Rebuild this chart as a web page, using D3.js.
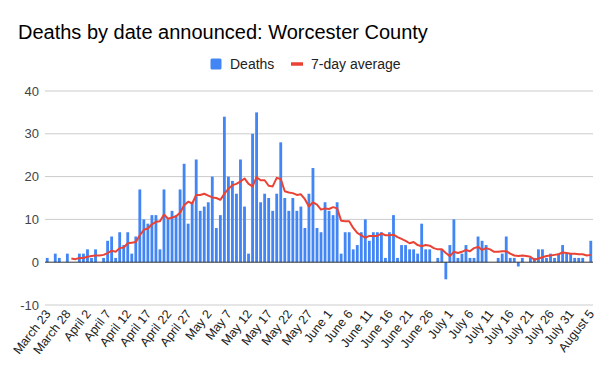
<!DOCTYPE html>
<html><head><meta charset="utf-8">
<script src="https://cdn.jsdelivr.net/npm/d3@7"></script>
<style>body{margin:0;background:#fff;} svg{display:block;font-family:Arial, "Liberation Sans", sans-serif;}</style>
</head><body><svg id="c" width="612" height="378"></svg>
<script>
const title = "Deaths by date announced: Worcester County";
const seriesNames = ["Deaths", "7-day average"];
const startDate = new Date(2020, 2, 23);
const endDate = new Date(2020, 7, 5);
const deaths = [
 1,0,2,1,0,2,0,0,2,2,
 3,1,3,0,1,5,6,1,7,4,
 7,2,6,17,10,9,11,11,3,17,
 10,12,11,17,23,9,14,24,12,13,
 14,20,8,11,34,20,19,16,24,13,
 2,30,35,14,16,15,12,16,28,15,
 12,15,12,13,8,16,22,8,7,14,
 12,11,14,2,7,7,3,4,7,10,
 5,7,7,7,1,7,11,1,4,4,
 3,3,2,9,3,3,0,1,3,-4,
 4,10,1,2,4,1,1,6,5,4,
 0,0,1,2,6,1,1,-1,1,0,
 1,1,3,3,1,2,1,2,4,2,
 2,1,1,1,0,5];
const avg7 = [null,null,null,null,null,null,
 0.86,0.71,1.0,1.0,1.29,1.43,1.57,1.57,1.71,2.14,
 2.71,2.43,3.29,3.43,4.43,4.57,4.71,6.29,7.57,7.86,
 8.86,9.43,9.57,11.14,10.14,10.43,10.71,11.57,13.29,14.14,
 13.71,15.71,15.71,16.0,15.57,15.14,15.0,14.57,16.0,17.14,
 18.0,18.29,18.86,19.57,18.29,17.71,19.86,19.14,19.14,17.86,
 17.71,19.71,19.43,16.57,16.29,16.14,15.71,15.86,14.71,13.0,
 14.0,13.43,12.29,12.57,12.43,12.86,12.57,9.71,9.57,9.57,
 8.0,6.86,6.29,5.71,6.14,6.14,6.14,6.71,6.29,6.29,
 6.43,5.86,5.43,5.0,4.43,4.71,4.0,3.71,4.0,3.86,
 3.29,3.0,3.0,2.14,1.43,2.43,2.14,2.43,2.86,2.57,
 3.29,3.57,2.86,3.29,3.0,2.43,2.43,2.57,2.57,2.0,
 1.57,1.43,1.57,1.43,1.29,0.57,0.86,1.14,1.43,1.57,
 1.71,1.86,2.29,2.14,2.0,2.0,1.86,1.86,1.57,1.71];
const yTicks = [-10, 0, 10, 20, 30, 40];
const tickLabels = ["March 23","March 28","April 2","April 7","April 12","April 17","April 22","April 27",
 "May 2","May 7","May 12","May 17","May 22","May 27","June 1","June 6","June 11","June 16","June 21",
 "June 26","July 1","July 6","July 11","July 16","July 21","July 26","July 31","August 5"];
const colors = ["#4285F4", "#EA4335"];

const categories = d3.timeDay.range(startDate, d3.timeDay.offset(endDate, 1));
const svg = d3.select("#c");

const x = d3.scaleBand().domain(d3.range(categories.length)).range([45, 593]).paddingInner(0.3).paddingOuter(0.2);
const y = d3.scaleLinear().domain([-10, 40]).range([305, 91]);
const bw = x.bandwidth();

// gridlines
svg.append("g").selectAll("line").data(yTicks.filter(t => t !== 0)).join("line")
  .attr("x1", 45).attr("x2", 593).attr("y1", d => y(d)).attr("y2", d => y(d))
  .attr("stroke", "#cccccc").attr("stroke-width", 1);

// y labels
svg.append("g").selectAll("text").data(yTicks).join("text")
  .attr("x", 39).attr("y", d => y(d)).attr("dy", "0.36em")
  .attr("text-anchor", "end").attr("font-size", 13).attr("fill", "#444")
  .text(d => d);

// bars
svg.append("g").selectAll("rect").data(deaths).join("rect")
  .attr("x", (d, i) => x(i)).attr("width", bw)
  .attr("y", d => y(Math.max(0, d))).attr("height", d => Math.abs(y(d) - y(0)))
  .attr("fill", colors[0]);

// zero line
svg.append("line").attr("x1", 45).attr("x2", 593).attr("y1", y(0)).attr("y2", y(0))
  .attr("stroke", "#333").attr("stroke-width", 1);

// avg line
const line = d3.line().defined(d => d[1] != null).x(d => x(d[0]) + bw / 2).y(d => y(d[1]));
svg.append("path").datum(avg7.map((v, i) => [i, v]))
  .attr("d", line).attr("fill", "none").attr("stroke", colors[1]).attr("stroke-width", 2)
  .attr("stroke-linejoin", "round");

// x labels
svg.append("g").selectAll("text").data(tickLabels).join("text")
  .attr("transform", (d, k) => `translate(${x(k * 5) + bw / 2 + 4},${314}) rotate(-52)`)
  .attr("text-anchor", "end").attr("font-size", 12.5).attr("fill", "#222")
  .text(d => d);

// title
svg.append("text").attr("x", 18).attr("y", 39).attr("font-size", 20).attr("fill", "#000").text(title);

// legend
const lg = svg.append("g");
lg.append("rect").attr("x", 210.5).attr("y", 58.5).attr("width", 11).attr("height", 11).attr("rx", 1.5).attr("fill", colors[0]);
lg.append("text").attr("x", 230).attr("y", 69).attr("font-size", 14).attr("fill", "#222").text(seriesNames[0]);
lg.append("line").attr("x1", 291).attr("x2", 303).attr("y1", 64).attr("y2", 64).attr("stroke", colors[1]).attr("stroke-width", 3.5);
lg.append("text").attr("x", 311).attr("y", 69).attr("font-size", 14).attr("fill", "#222").text(seriesNames[1]);
</script></body></html>
